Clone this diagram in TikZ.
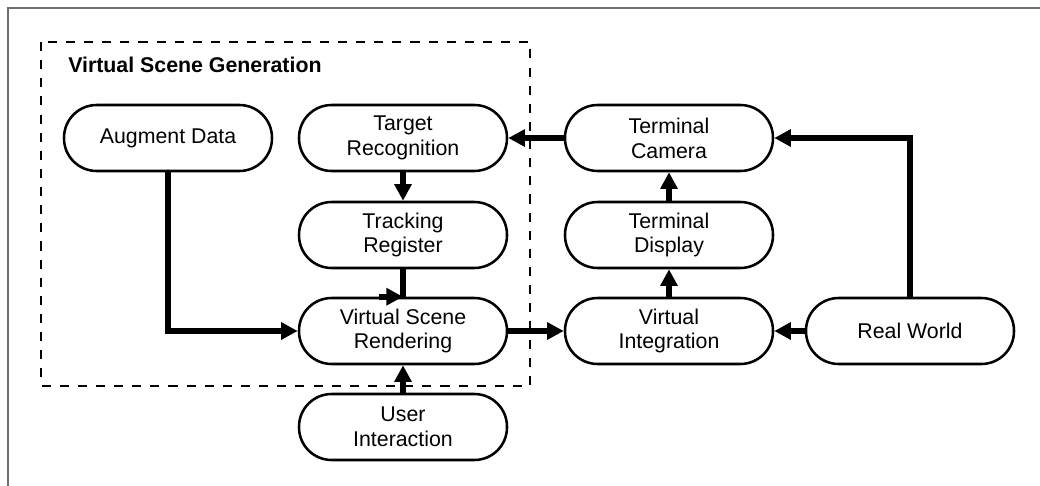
\documentclass[tikz,border=0pt]{standalone}
\usepackage{fontspec}
\setmainfont{Liberation Sans}
\usetikzlibrary{arrows.meta}
\begin{document}
\begin{tikzpicture}[x=0.75pt,y=-0.75pt,
  block/.style={draw=black,line width=1.9pt,fill=white,rectangle,rounded corners=24.5pt,
    minimum width=156pt,minimum height=49.5pt,align=center,inner sep=2pt,
    font=\fontsize{16}{18.6}\selectfont},
  flow/.style={line width=4.2pt,-{Triangle[length=12.5pt,width=12.5pt]}},
  plain/.style={line width=4.2pt},
  frameline/.style={draw={rgb,255:red,110;green,110;blue,110},line width=1.6pt},
  groupbox/.style={draw=black,line width=1.6pt,dash pattern=on 6.8pt off 6.8pt}]
\useasboundingbox (0,0) rectangle (1040,486);
\fill[white] (0,0) rectangle (1040,486);

% outer frame (top and left edges)
\draw[frameline] (8,486) -- (8,8) -- (1040,8);

% dashed group
\draw[groupbox] (41,42) rectangle (530,386);
\node[anchor=base west,inner sep=0pt,font=\fontsize{16}{18.6}\selectfont\bfseries] (title) at (68,72) {Virtual Scene Generation};

% blocks
\node[block] (ad)  at (168,138) {Augment Data};
\node[block] (tr)  at (403,138) {Target\\Recognition};
\node[block] (trk) at (403,235) {Tracking\\Register};
\node[block] (vsr) at (403,331) {Virtual Scene\\Rendering};
\node[block] (ui)  at (403,427) {User\\Interaction};
\node[block] (tc)  at (669,138) {Terminal\\Camera};
\node[block] (td)  at (669,235) {Terminal\\Display};
\node[block] (vi)  at (669,331) {Virtual\\Integration};
\node[block] (rw)  at (910,331) {Real World};

% connectors
\draw[flow] (tc.west) -- (tr.east);
\draw[flow] (tr.south) -- (trk.north);
\draw[plain] (trk.south) -- (vsr.north);
\coordinate (trkin) at ([xshift=-18pt]vsr.north);
\draw[flow] (trkin) -- (vsr.north);
\draw[flow] (ad.south) |- (vsr.west);
\draw[flow] (ui.north) -- (vsr.south);
\draw[flow] (vsr.east) -- (vi.west);
\draw[flow] (vi.north) -- (td.south);
\draw[flow] (td.north) -- (tc.south);
\draw[flow] (rw.west) -- (vi.east);
\draw[flow] (rw.north) |- (tc.east);
\end{tikzpicture}
\end{document}
